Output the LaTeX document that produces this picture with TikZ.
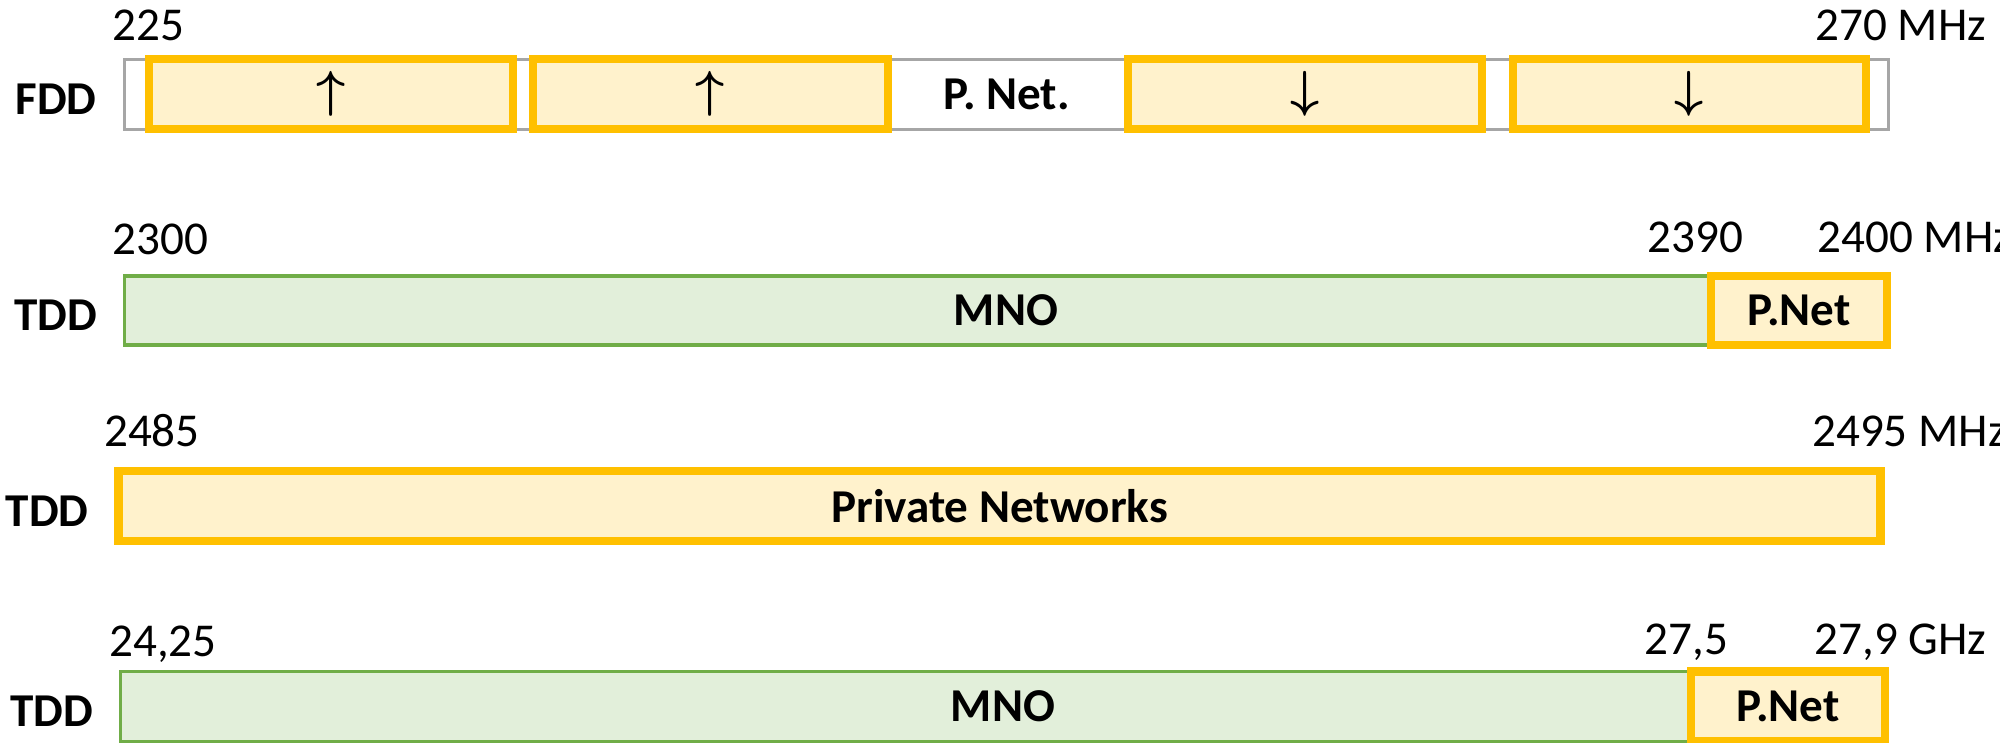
\documentclass[tikz,border=0pt]{standalone}
\usepackage{amsmath}
\usepackage{fontspec}
\setmainfont{Carlito}
\usetikzlibrary{positioning}

\definecolor{pnetLine}{HTML}{FFC000}
\definecolor{pnetFill}{HTML}{FFF2CC}
\definecolor{mnoLine}{HTML}{70AD47}
\definecolor{mnoFill}{HTML}{E2EFDA}
\definecolor{bandLine}{HTML}{A6A6A6}

\begin{document}
\begin{tikzpicture}[x=0.01cm, y=-0.01cm]

    %
    % Styles for bands, blocks and labels
    %
    \tikzstyle{band} = [draw, rectangle, inner sep=0pt, minimum height=0.70cm,
                        font={\fontsize{13.4}{16}\selectfont\bfseries}]
    \tikzstyle{greyBand} = [band, draw=bandLine, line width=0.7pt, fill=white];
    \tikzstyle{mnoBand} = [band, draw=mnoLine, fill=mnoFill, line width=1pt];
    \tikzstyle{pnetBlock} = [band, draw=pnetLine, fill=pnetFill, line width=2.3pt];
    \tikzstyle{linkArrow} = [font={\fontsize{14.5}{16}\selectfont}];
    \tikzstyle{duplexLabel} = [font={\fontsize{13.4}{16}\selectfont\bfseries}, inner sep=0pt, yshift=-0.05cm];
    \tikzstyle{freqLabel} = [font={\fontsize{13.4}{16}\selectfont}, inner sep=0pt, text depth=0pt];

    \useasboundingbox (0,0) rectangle (2000,742);

    %
    % Position bands
    %
    \node[greyBand, minimum width=17.63cm, name=fdd] at (1006.5,94.5) {P. Net.};
    \node[pnetBlock, linkArrow, minimum width=3.64cm, name=upOne] at (331,94) {$\boldsymbol{\uparrow}$};
    \node[pnetBlock, linkArrow, minimum width=3.55cm, name=upTwo] at (710.5,94) {$\boldsymbol{\uparrow}$};
    \node[pnetBlock, linkArrow, minimum width=3.54cm, name=downOne] at (1305,94) {$\boldsymbol{\downarrow}$};
    \node[pnetBlock, linkArrow, minimum width=3.53cm, name=downTwo] at (1689.5,94) {$\boldsymbol{\downarrow}$};

    \node[mnoBand, minimum width=17.62cm, minimum height=0.69cm, name=mnoLow] at (1006,310.5) {MNO};
    \node[pnetBlock, minimum width=1.76cm, minimum height=0.69cm, name=pnetLow] at (1799,310.5) {P.Net};

    \node[pnetBlock, minimum width=17.61cm, name=privNet] at (999.5,506) {Private Networks};

    \node[mnoBand, minimum width=17.64cm, name=mnoHigh] at (1003,706.5) {MNO};
    \node[pnetBlock, minimum width=1.94cm, name=pnetHigh] at (1788,706.5) {P.Net};

    %
    % Duplex labels
    %
    \node[duplexLabel, left=0.26cm of fdd, name=fddLabel] {FDD};
    \node[duplexLabel, left=0.25cm of mnoLow, name=tddLow] {TDD};
    \node[duplexLabel, left=0.25cm of privNet, name=tddMid] {TDD};
    \node[duplexLabel, left=0.25cm of mnoHigh, name=tddHigh] {TDD};

    %
    % Frequency labels
    %
    \node[freqLabel, above right=0.17cm and -0.11cm of fdd.north west, name=f225] {225};
    \node[freqLabel, above right=0.17cm and -0.75cm of fdd.north east, name=f270] {270 MHz};

    \node[freqLabel, above right=0.19cm and -0.11cm of mnoLow.north west, name=f2300] {2300};
    \node[freqLabel, above right=0.19cm and -0.60cm of pnetLow.north west, name=f2390] {2390};
    \node[freqLabel, above right=0.19cm and -0.74cm of pnetLow.north east, name=f2400] {2400 MHz};

    \node[freqLabel, above right=0.20cm and -0.11cm of privNet.north west, name=f2485] {2485};
    \node[freqLabel, above right=0.20cm and -0.73cm of privNet.north east, name=f2495] {2495 MHz};

    \node[freqLabel, above right=0.125cm and -0.10cm of mnoHigh.north west, name=f2425] {24,25};
    \node[freqLabel, above right=0.125cm and -0.43cm of pnetHigh.north west, name=f275] {27,5};
    \node[freqLabel, above right=0.125cm and -0.75cm of pnetHigh.north east, name=f279] {27,9 GHz};
  \end{tikzpicture}
\end{document}
